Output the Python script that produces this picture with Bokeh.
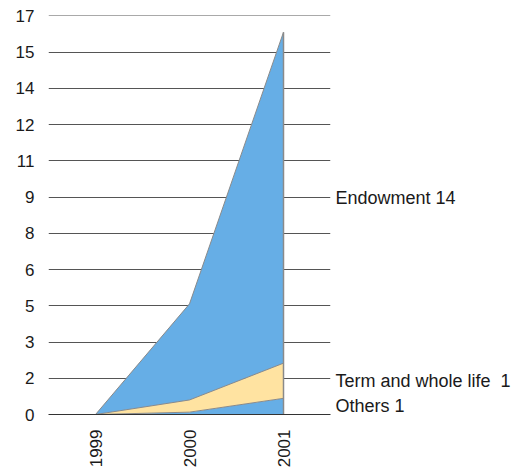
import numpy as np
from bokeh.plotting import figure
from bokeh.models import ColumnDataSource, FactorRange, Range1d, FixedTicker, LinearAxis
from bokeh.embed import file_html
from bokeh.resources import INLINE

years = ["1999", "2000", "2001"]
others = [0.0, 0.10, 0.69]
term = [0.0, 0.52, 1.50]
endowment = [0.0, 4.10, 14.12]
series_names = ["others", "term", "endowment"]
series_labels = ["Others 1", "Term and whole life\u00a0 1", "Endowment 14"]
y_max = 17
y_tick_labels = ["0", "2", "3", "5", "6", "8", "9", "11", "12", "14", "15", "17"]

blue = "#66AEE6"
yellow = "#FFE3A1"
edge = "#8a8a8a"
FONT = "Liberation Sans"

src = ColumnDataSource(dict(year=years, others=others, term=term, endowment=endowment))

p = figure(width=515, height=470, x_range=FactorRange(*years, range_padding=0),
           y_range=Range1d(0, y_max + 0.02), output_backend="svg", toolbar_location=None,
           min_border_left=48, min_border_right=185, min_border_top=15, min_border_bottom=56)
p.outline_line_color = None
p.background_fill_color = "white"

p.varea_stack(series_names, x="year", color=[blue, yellow, blue], source=src)

cum = np.cumsum(np.array([others, term, endowment]), axis=0)
for row in cum:
    p.line(years, list(row), line_color=edge, line_width=1)
p.segment(x0=[years[-1]], y0=[0], x1=[years[-1]], y1=[float(cum[-1][-1])],
          line_color=edge, line_width=1.5)

# y ticks: 11 equal intervals
n = len(y_tick_labels) - 1
yticks = [y_max * i / n for i in range(n + 1)]
p.yaxis.ticker = FixedTicker(ticks=yticks)
p.yaxis.major_label_overrides = {t: l for t, l in zip(yticks, y_tick_labels)}
p.yaxis.axis_line_color = None
p.yaxis.major_tick_line_color = None
p.yaxis.major_tick_out = 0
p.yaxis.major_tick_in = 0
p.yaxis.minor_tick_line_color = None
p.yaxis.major_label_standoff = 14
p.yaxis.major_label_text_font = FONT
p.yaxis.major_label_text_font_size = "17px"
p.yaxis.major_label_text_color = "#1a1a1a"

p.ygrid.ticker = FixedTicker(ticks=yticks)
p.ygrid.grid_line_color = "#555555"
p.ygrid.grid_line_width = 1
p.xgrid.grid_line_color = None

p.xaxis.axis_line_color = "#333333"
p.xaxis.major_tick_line_color = None
p.xaxis.major_tick_out = 0
p.xaxis.major_tick_in = 0
p.xaxis.minor_tick_line_color = None
p.xaxis.major_label_orientation = np.pi / 2
p.xaxis.major_label_standoff = 15
p.xaxis.major_label_text_font = FONT
p.xaxis.major_label_text_font_size = "17px"
p.xaxis.major_label_text_color = "#1a1a1a"

# right-side series labels at band midpoints of last year
lows = [0.0] + [float(v) for v in cum[:-1, -1]]
highs = [float(v) for v in cum[:, -1]]
mids = [(a + b) / 2 for a, b in zip(lows, highs)]
rax = LinearAxis(ticker=FixedTicker(ticks=mids))
rax.major_label_overrides = {m: l for m, l in zip(mids, series_labels)}
rax.axis_line_color = None
rax.major_tick_line_color = None
rax.major_tick_out = 0
rax.major_tick_in = 0
rax.minor_tick_line_color = None
rax.major_label_standoff = 5
rax.major_label_text_font = FONT
rax.major_label_text_font_size = "18px"
rax.major_label_text_color = "#1a1a1a"
p.add_layout(rax, "right")

open("out.html", "w").write(file_html(p, INLINE))
